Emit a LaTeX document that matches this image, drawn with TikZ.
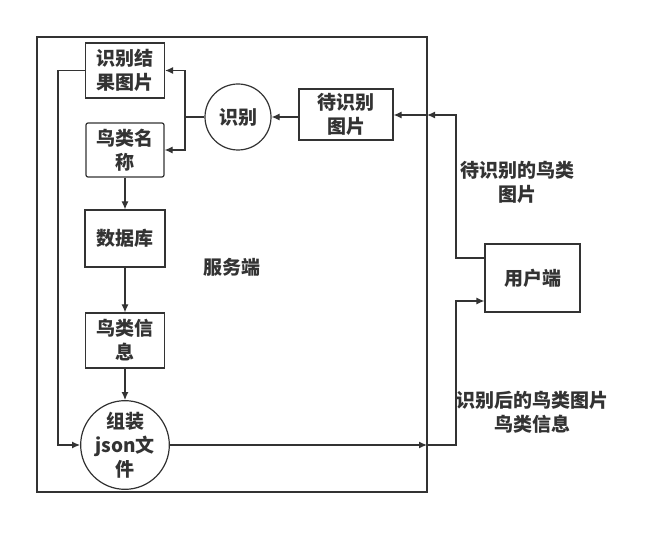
\documentclass[tikz,border=0pt]{standalone}
\usepackage{fontspec}
\setmainfont{Noto Sans CJK SC}
\usetikzlibrary{arrows.meta}
\definecolor{ink}{HTML}{333333}
\begin{document}
\begin{tikzpicture}[x=1pt,y=-1pt,
  every node/.style={font=\fontsize{19}{24}\selectfont\bfseries, text=ink, align=center, inner sep=0pt},
  boxst/.style={draw=ink, line width=1.2pt, minimum width=#1},
  circst/.style={draw=ink, line width=1.2pt, circle, minimum size=#1},
  arr/.style={draw=ink, line width=1.2pt, -{Latex[length=8pt,width=7pt]}},
  ln/.style={draw=ink, line width=1.2pt}]
\useasboundingbox (0,0) rectangle (657,540);
\node[draw=ink, line width=1.2pt, minimum width=390pt, minimum height=455pt] (server) at (232,264.5) {};
\node (svlabel) at (232,267) {服务端};
\node[boxst=79pt, minimum height=55pt] (jg) at (125,70.5) {识别结\\果图片};
\node[boxst=78pt, minimum height=54pt, rounded corners=2pt] (mc) at (125,150) {鸟类名\\称};
\node[circst=66pt] (sb) at (238,117) {识别};
\node[boxst=94pt, minimum height=51pt] (dsb) at (346,114.5) {待识别\\图片};
\node[boxst=80pt, minimum height=57pt] (db) at (125,238.5) {数据库};
\node[boxst=79pt, minimum height=55pt] (xx) at (125,340.5) {鸟类信\\息};
\node[circst=86pt] (zz) at (125,445) {组装\\json文\\件};
\node[boxst=95pt, minimum height=68pt] (user) at (532.5,278) {用户端};
\node (lab1) at (517,182) {待识别的鸟类\\图片};
\node (lab2) at (532,412) {识别后的鸟类图片\\鸟类信息};
\coordinate (pin) at (427,115);
\coordinate (pout) at (427,445);
\coordinate (br) at (185,117);
% top flow
\draw[arr] (user.west |- 0,258) -- (456,258) -- (456,115) -- (pin);
\draw[arr] (pin) -- (dsb.east |- pin);
\draw[arr] (dsb.west |- sb) -- (sb.east);
\draw[ln] (sb.west) -- (br);
\draw[arr] (br) |- (jg.east);
\draw[arr] (br) |- (mc.east);
% vertical chain
\draw[arr] (mc.south) -- (db.north);
\draw[arr] (db.south) -- (xx.north);
\draw[arr] (xx.south) -- (zz.north);
% left loop
\draw[arr] (jg.west) -- (58,70.5) |- (zz.west);
% bottom flow
\draw[arr] (zz.east) -- (pout);
\draw[arr] (pout) -- (456,445) -- (456,301) -- (user.west |- 0,301);
\end{tikzpicture}
\end{document}
